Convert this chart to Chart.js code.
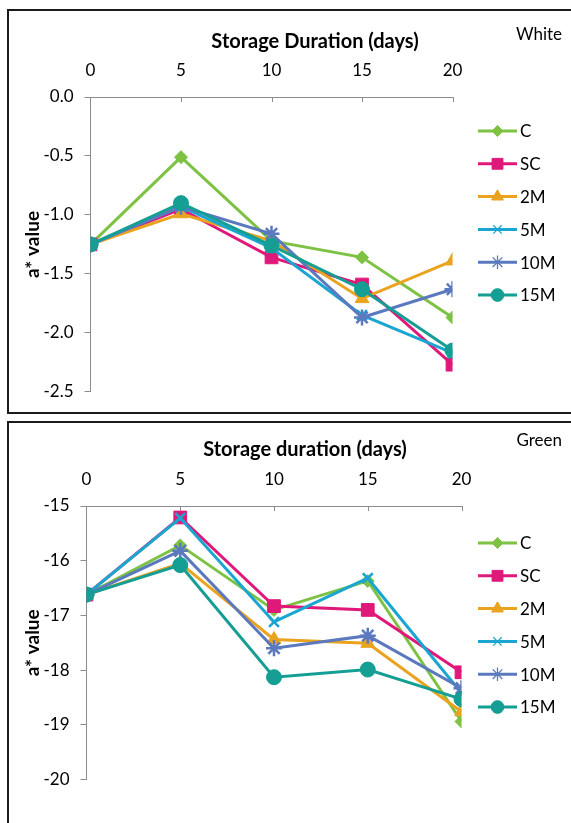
<!DOCTYPE html>
<html><head><meta charset="utf-8">
<script src="https://cdn.jsdelivr.net/npm/chart.js@4"></script>
<style>
html,body{margin:0;padding:0;background:#fff;width:571px;height:823px;overflow:hidden;position:relative;}
.box{position:absolute;border:2px solid #1b1b1b;box-sizing:border-box;}
#b1{left:7px;top:9px;width:600px;height:405px;}
#b2{left:7px;top:421px;width:600px;height:420px;}
.cv{position:absolute;}
#w1{left:9px;top:11px;width:562px;height:402px;}
#w2{left:9px;top:423px;width:562px;height:400px;}
</style></head><body>
<div class="box" id="b1"></div><div class="box" id="b2"></div>
<div class="cv" id="w1"><canvas id="c1"></canvas></div>
<div class="cv" id="w2"><canvas id="c2"></canvas></div>
<script>
const days = [0, 5, 10, 15, 20];
const seriesNames = ['C', 'SC', '2M', '5M', '10M', '15M'];

// White (top panel) a* values
const whiteC   = [-1.25, -0.51, -1.22, -1.36, -1.87];
const whiteSC  = [-1.25, -0.95, -1.36, -1.59, -2.27];
const white2M  = [-1.25, -0.99, -1.22, -1.71, -1.39];
const white5M  = [-1.25, -0.93, -1.28, -1.85, -2.17];
const white10M = [-1.25, -0.93, -1.16, -1.87, -1.63];
const white15M = [-1.25, -0.90, -1.26, -1.63, -2.15];

// Green (bottom panel) a* values
const greenC   = [-16.62, -15.72, -16.90, -16.37, -18.94];
const greenSC  = [-16.62, -15.21, -16.83, -16.90, -18.04];
const green2M  = [-16.62, -16.05, -17.44, -17.51, -18.76];
const green5M  = [-16.62, -15.22, -17.12, -16.32, -18.42];
const green10M = [-16.62, -15.82, -17.60, -17.37, -18.33];
const green15M = [-16.62, -16.08, -18.13, -17.99, -18.53];

const whiteTicks = [0, -0.5, -1, -1.5, -2, -2.5];
const greenTicks = [-15, -16, -17, -18, -19, -20];

const colors = ['#7DC242', '#E0187A', '#E9A31F', '#1AA6D0', '#5B79BE', '#159E94'];
const styles = ['rectRot', 'rect', 'triangle', 'crossRot', 'star', 'circle'];
const radii  = [6.5, 9, 8, 7, 8, 7.5];
const bw     = [1, 1, 1, 2.5, 2.5, 1];
const FONT = 'Lato, "Open Sans", sans-serif';

const decoPlugin = {
  id: 'deco',
  afterDraw(chart, args, o) {
    const ctx = chart.ctx;
    const xs = chart.scales.x;
    ctx.save();
    // inner tick marks on the top axis
    ctx.strokeStyle = '#8c8c8c';
    ctx.lineWidth = 1;
    days.slice(1).forEach(d => {
      const px = Math.round(xs.getPixelForValue(d)) + 0.5;
      ctx.beginPath();
      ctx.moveTo(px, chart.chartArea.top);
      ctx.lineTo(px, chart.chartArea.top + 5);
      ctx.stroke();
    });
    // title & panel tag
    ctx.fillStyle = '#000';
    ctx.textBaseline = 'middle';
    ctx.textAlign = 'center';
    ctx.font = 'bold 20px ' + FONT;
    ctx.fillText(o.title, o.titleX, o.titleY);
    ctx.textAlign = 'right';
    ctx.font = '17px ' + FONT;
    ctx.fillText(o.tag, o.tagX, o.tagY);
    // legend
    chart.data.datasets.forEach((ds, i) => {
      const y = o.legY + i * o.legDy;
      ctx.strokeStyle = ds.borderColor;
      ctx.lineWidth = 3;
      ctx.beginPath();
      ctx.moveTo(o.legX1, y);
      ctx.lineTo(o.legX2, y);
      ctx.stroke();
      ctx.fillStyle = ds.borderColor;
      ctx.strokeStyle = ds.borderColor;
      ctx.lineWidth = styles[i] === 'crossRot' || styles[i] === 'star' ? 1.3 : 1;
      Chart.helpers.drawPoint(ctx, {
        pointStyle: ds.pointStyle, radius: ds.pointRadius * 0.85, rotation: 0,
        borderWidth: ctx.lineWidth
      }, (o.legX1 + o.legX2) / 2, y);
      ctx.fillStyle = '#000';
      ctx.textAlign = 'left';
      ctx.font = '17px ' + FONT;
      ctx.fillText(ds.label, o.legTX, y + 1);
    });
    ctx.restore();
  }
};

function makeChart(id, series, yMin, yMax, step, dec, cfg) {
  const datasets = series.map((vals, i) => ({
    label: seriesNames[i],
    data: days.map((d, k) => ({ x: d, y: vals[k] })),
    borderColor: colors[i],
    backgroundColor: colors[i],
    borderWidth: 3,
    pointStyle: styles[i],
    pointRadius: radii[i],
    pointHoverRadius: radii[i],
    pointBorderWidth: bw[i],
    pointBackgroundColor: colors[i],
    pointBorderColor: colors[i],
    tension: 0,
    order: -i
  }));
  return new Chart(document.getElementById(id), {
    type: 'line',
    data: { datasets },
    options: {
      responsive: true,
      maintainAspectRatio: false,
      animation: false,
      events: [],
      layout: { padding: cfg.pad },
      plugins: {
        legend: { display: false },
        tooltip: { enabled: false },
        deco: cfg.deco
      },
      scales: {
        x: {
          type: 'linear', position: 'top', min: 0, max: 20,
          ticks: { stepSize: 5, color: '#000', font: { family: FONT, size: 17 }, padding: cfg.xPad },
          grid: { drawOnChartArea: false, drawTicks: false },
          border: { color: '#8c8c8c', width: 1 },
          afterFit: s => { s.height = cfg.xH; }
        },
        y: {
          min: yMin, max: yMax,
          ticks: {
            stepSize: step, color: '#000', font: { family: FONT, size: 17 }, padding: 11,
            callback: v => v.toFixed(dec)
          },
          grid: { drawOnChartArea: false, drawTicks: true, tickLength: 6, color: '#8c8c8c' },
          border: { color: '#8c8c8c', width: 1 },
          title: { display: true, text: 'a* value', color: '#000',
                   font: { family: FONT, size: 19, weight: 'bold' }, padding: { top: 12, bottom: 0 } },
          afterFit: s => { s.width = cfg.yW; }
        }
      }
    },
    plugins: [decoPlugin]
  });
}

makeChart('c1', [whiteC, whiteSC, white2M, white5M, white10M, white15M],
  whiteTicks[whiteTicks.length - 1], whiteTicks[0], 0.5, 1, {
    pad: { left: 0, top: 0, right: 118.5, bottom: 17 },
    xH: 86, yW: 81.5, xPad: 16,
    deco: { title: 'Storage Duration (days)', titleX: 306, titleY: 31,
            tag: 'White', tagX: 553, tagY: 24,
            legY: 120, legDy: 32.8, legX1: 469, legX2: 508, legTX: 511 }
  });

makeChart('c2', [greenC, greenSC, green2M, green5M, green10M, green15M],
  greenTicks[greenTicks.length - 1], greenTicks[0], 1, 0, {
    pad: { left: 0, top: 0, right: 109.5, bottom: 43.5 },
    xH: 83, yW: 77.5, xPad: 16,
    deco: { title: 'Storage duration (days)', titleX: 296, titleY: 27,
            tag: 'Green', tagX: 553, tagY: 18,
            legY: 120, legDy: 32.8, legX1: 469, legX2: 508, legTX: 511 }
  });
</script>
</body></html>
